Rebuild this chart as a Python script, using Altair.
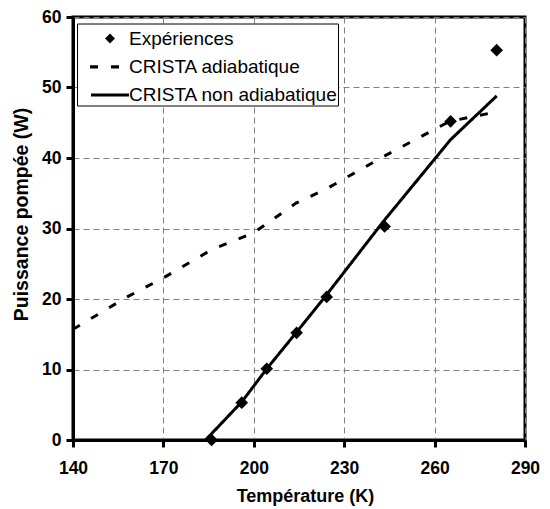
import altair as alt
import pandas as pd

labels = ["Expériences", "CRISTA adiabatique", "CRISTA non adiabatique"]

exp_T = [186, 196, 204.3, 214.2, 224.2, 243.4, 265.3, 280.6]
exp_P = [0.0, 5.3, 10.1, 15.2, 20.3, 30.3, 45.2, 55.3]

adia_T = [140, 158, 170, 186, 200, 214, 224, 243, 265, 280]
adia_P = [15.7, 20.3, 23.0, 27.0, 29.4, 33.6, 35.6, 40.2, 45.2, 46.5]

nonadia_T = [184, 196, 204.3, 214.2, 223.8, 243, 265.3, 280.6]
nonadia_P = [0.0, 5.4, 10.1, 15.3, 20.4, 31.0, 42.6, 48.8]

pts = pd.DataFrame({"T": exp_T, "P": exp_P, "s": labels[0]})
lines = pd.concat([
    pd.DataFrame({"T": adia_T, "P": adia_P, "s": labels[1]}),
    pd.DataFrame({"T": nonadia_T, "P": nonadia_P, "s": labels[2]}),
])

FONT = "Liberation Sans"
# legend glyphs (unit paths, scaled by the symbol size)
diamond = "M-0.36,0L0,-0.36L0.36,0L0,0.36Z"
solid_glyph = "M-1.39,-0.11H1.39V0.11H-1.39Z"
dash_glyph = "M-1.46,-0.12H-0.88V0.12H-1.46Z M0.07,-0.12H0.66V0.12H0.07Z"

xenc = alt.X("T:Q", scale=alt.Scale(domain=[140, 290], nice=False),
             axis=alt.Axis(values=[140, 170, 200, 230, 260, 290], title="Température (K)",
                           labelFlush=False, titleX=232))
yenc = alt.Y("P:Q", scale=alt.Scale(domain=[0, 60], nice=False),
             axis=alt.Axis(values=[0, 10, 20, 30, 40, 50, 60], title="Puissance pompée (W)",
                           labelFlush=False, titleY=197, titleFontSize=19.5))

legend = alt.Legend(title=None, orient="none", legendX=4, legendY=6.5,
                    strokeColor="black", fillColor="white", padding=0,
                    labelFont=FONT, labelFontSize=19, labelColor="black",
                    rowPadding=3.3, labelOffset=4, symbolSize=745,
                    symbolStrokeColor="black", symbolFillColor="black",
                    symbolStrokeWidth=2, symbolOffset=18, labelLimit=400)

dash_scale = alt.Scale(domain=labels, range=[[1, 0], [8, 13], [1, 0]])
shape_scale = alt.Scale(domain=labels, range=[diamond, dash_glyph, solid_glyph])

line_layer = alt.Chart(lines).mark_line(color="black", strokeWidth=3).encode(
    x=xenc, y=yenc,
    strokeDash=alt.StrokeDash("s:N", scale=dash_scale, legend=legend),
)

pt_layer = alt.Chart(pts).mark_point(filled=True, color="black", fill="black", stroke="black",
                                     strokeWidth=2, opacity=1, size=745).encode(
    x=xenc, y=yenc,
    shape=alt.Shape("s:N", scale=shape_scale, legend=legend),
)

chart = alt.layer(line_layer, pt_layer).properties(
    width=452, height=423,
    autosize=alt.AutoSizeParams(type="none"),
    padding={"left": 65, "top": 9, "right": 17, "bottom": 68},
).configure_view(
    stroke="black", strokeWidth=3
).configure_axis(
    labelFont=FONT, labelFontSize=17.5, labelFontWeight="bold", labelColor="black",
    titleFont=FONT, titleFontSize=18, titleFontWeight="bold", titleColor="black",
    domainColor="black", domainWidth=3, tickColor="black", tickWidth=3, tickSize=7,
    grid=True, gridColor="#808080", gridDash=[6, 4], gridWidth=1, gridOpacity=1,
).configure_axisX(
    labelPadding=12, titlePadding=11,
).configure_axisY(
    labelPadding=5, titlePadding=10,
)

chart.save("out.html", embed_options={"renderer": "svg", "actions": False})
